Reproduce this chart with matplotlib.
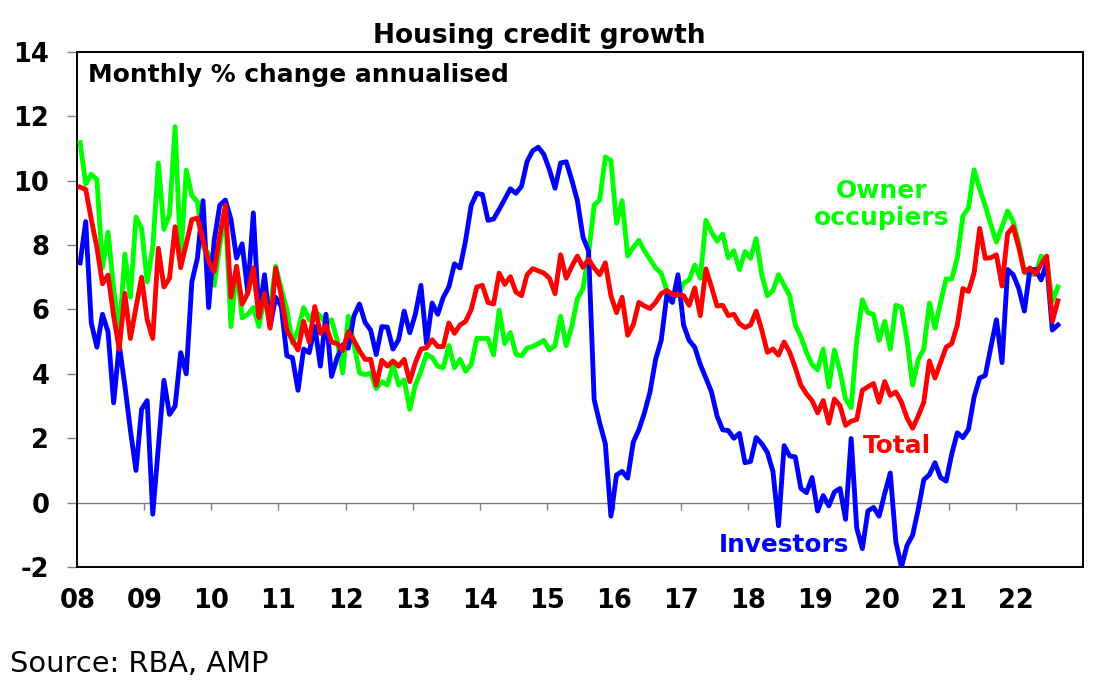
import numpy as np
import matplotlib
matplotlib.use('Agg')
import matplotlib.pyplot as plt

# monthly data, Jan 2008 .. Aug 2022 (% change annualised)
start_year = 2008

owner_occupiers = [
    11.18, 9.9, 10.2, 10.04, 7.3, 8.4, 6.65, 5.2, 7.72, 6.38, 8.87, 8.52,
    6.86, 7.93, 10.55, 8.49, 8.95, 11.68, 7.6, 10.33, 9.54, 9.34, 7.93, 7.74,
    6.75, 8.0, 9.0, 5.47, 7.34, 5.74, 5.85, 6.06, 5.47, 6.38, 6.0, 7.34,
    6.65, 6.0, 4.96, 5.36, 6.06, 5.68, 5.95, 5.79, 5.58, 5.68, 5.04, 4.03,
    5.79, 4.94, 4.03, 3.97, 4.03, 3.54, 3.76, 3.65, 4.29, 3.65, 3.81, 2.9,
    3.65, 4.08, 4.61, 4.51, 4.24, 4.19, 4.88, 4.19, 4.45, 4.08, 4.29, 5.1,
    5.1, 5.1, 4.59, 5.98, 4.94, 5.28, 4.61, 4.56, 4.8, 4.85, 4.94, 5.04,
    4.74, 4.88, 5.79, 4.88, 5.47, 6.33, 6.65, 7.72, 9.24, 9.41, 10.74, 10.63,
    8.68, 9.38, 7.66, 7.93, 8.15, 7.82, 7.56, 7.29, 7.13, 6.59, 6.43, 6.43,
    6.81, 6.92, 7.38, 6.97, 8.77, 8.41, 8.12, 8.34, 7.61, 7.82, 7.24, 7.8,
    7.59, 8.2, 7.08, 6.43, 6.59, 7.08, 6.75, 6.43, 5.52, 5.15, 4.67, 4.29,
    4.13, 4.77, 3.6, 4.74, 4.08, 3.22, 2.95, 5.04, 6.3, 5.9, 5.85, 5.04,
    5.63, 4.77, 6.13, 6.06, 5.04, 3.65, 4.45, 4.77, 6.2, 5.42, 6.22, 6.95,
    6.95, 7.61, 8.9, 9.16, 10.34, 9.75, 9.22, 8.63, 8.09, 8.57, 9.06, 8.73,
    8.04, 7.16, 7.08, 7.1, 7.66, 7.5, 6.25, 6.7,
]

total = [
    9.8, 9.73, 8.8, 7.93, 6.8, 7.07, 5.8, 4.77, 6.5, 5.1, 6.06, 7.0,
    5.68, 5.1, 7.9, 6.7, 6.97, 8.57, 7.3, 8.04, 8.79, 8.84, 8.15, 7.5,
    7.18, 8.3, 9.24, 6.38, 7.34, 6.17, 6.5, 7.3, 5.75, 6.5, 5.42, 7.28,
    6.43, 5.36, 5.04, 4.74, 5.63, 4.99, 6.09, 5.26, 5.5, 4.99, 4.94, 4.72,
    5.31, 5.04, 4.72, 4.45, 4.45, 3.65, 4.42, 4.24, 4.4, 4.24, 4.45, 3.76,
    4.35, 4.77, 4.81, 5.06, 4.85, 4.85, 5.58, 5.26, 5.52, 5.63, 6.0, 6.7,
    6.75, 6.22, 6.17, 7.13, 6.78, 7.02, 6.54, 6.43, 7.08, 7.27, 7.2, 7.13,
    6.97, 6.49, 7.7, 6.97, 7.34, 7.66, 7.31, 7.56, 7.29, 7.08, 7.45, 6.43,
    5.9, 6.38, 5.2, 5.52, 6.22, 6.11, 6.03, 6.22, 6.49, 6.59, 6.47, 6.46,
    6.43, 6.13, 6.67, 5.81, 7.26, 6.7, 6.11, 6.13, 5.81, 5.85, 5.56, 5.44,
    5.52, 5.95, 5.36, 4.67, 4.77, 4.58, 4.99, 4.67, 4.19, 3.65, 3.38, 3.17,
    2.79, 3.17, 2.47, 3.22, 3.01, 2.4, 2.53, 2.58, 3.49, 3.6, 3.7, 3.12,
    3.76, 3.33, 3.44, 3.12, 2.63, 2.31, 2.69, 3.12, 4.4, 3.87, 4.35, 4.83,
    4.94, 5.52, 6.65, 6.56, 7.13, 8.52, 7.59, 7.61, 7.7, 6.73, 8.36, 8.57,
    7.93, 7.16, 7.29, 7.1, 7.4, 7.66, 5.63, 6.27,
]

investors = [
    7.45, 8.73, 5.58, 4.83, 5.85, 5.3, 3.1, 4.9, 3.65, 2.25, 1.0, 2.9,
    3.17, -0.36, 1.72, 3.8, 2.74, 3.0, 4.66, 4.0, 6.86, 7.6, 9.38, 6.06,
    8.15, 9.24, 9.4, 8.8, 7.6, 8.04, 6.54, 9.0, 5.8, 7.08, 5.47, 6.38,
    6.1, 4.56, 4.5, 3.49, 4.77, 4.66, 5.47, 4.24, 5.85, 3.92, 4.5, 4.9,
    4.8, 5.8, 6.17, 5.6, 5.36, 4.6, 5.47, 5.45, 4.77, 5.06, 5.95, 5.28,
    5.85, 6.75, 4.94, 6.2, 5.85, 6.38, 6.7, 7.42, 7.29, 8.15, 9.24, 9.61,
    9.57, 8.77, 8.81, 9.11, 9.43, 9.75, 9.61, 9.83, 10.6, 10.93, 11.04, 10.82,
    10.34, 9.77, 10.55, 10.59, 10.02, 9.38, 8.25, 7.82, 3.2, 2.47, 1.83, -0.42,
    0.86, 0.97, 0.76, 1.88, 2.26, 2.79, 3.44, 4.45, 5.04, 6.43, 6.22, 7.08,
    5.52, 5.04, 4.83, 4.29, 3.87, 3.44, 2.69, 2.26, 2.24, 2.0, 2.15, 1.24,
    1.28, 2.02, 1.83, 1.56, 0.97, -0.72, 1.77, 1.45, 1.42, 0.44, 0.31, 0.78,
    -0.26, 0.22, -0.1, 0.33, 0.44, -0.52, 1.99, -0.79, -1.43, -0.26, -0.15, -0.42,
    0.28, 0.92, -1.22, -2.0, -1.33, -1.01, -0.21, 0.71, 0.87, 1.24, 0.78, 0.67,
    1.51, 2.17, 2.02, 2.28, 3.28, 3.87, 3.95, 4.83, 5.68, 4.35, 7.24, 7.08,
    6.65, 5.95, 7.24, 7.24, 6.92, 7.45, 5.36, 5.52,
]

year_ticks = list(range(2008, 2023))
year_labels = ['%02d' % (y % 100) for y in year_ticks]

GREEN = '#00FF00'
RED = '#FF0000'
BLUE = '#0000FF'
GREY = '#808080'


def main():
    plt.rcParams['font.family'] = ['DejaVu Sans']
    plt.rcParams['font.weight'] = 'bold'
    plt.rcParams['axes.unicode_minus'] = False

    months = np.arange(len(total))
    x = start_year + (months + 0.5) / 12.0

    fig = plt.figure(figsize=(11.03, 6.94), dpi=100)
    ax = fig.add_axes([0.0701, 0.1830, 0.9118, 0.7421])

    ax.axhline(0, color=GREY, lw=1.0, zorder=1)
    # small year marks sitting on the zero line
    ax.vlines(year_ticks[1:], -0.22, 0, color=GREY, lw=1.0, zorder=1)

    lw = 3.5
    ax.plot(x, owner_occupiers, color=GREEN, lw=lw, zorder=3)
    ax.plot(x, investors, color=BLUE, lw=lw, zorder=4)
    ax.plot(x, total, color=RED, lw=lw, zorder=5)

    ax.set_xlim(2008, 2023)
    ax.set_ylim(-2, 14)
    ax.set_yticks(range(-2, 15, 2))
    ax.set_xticks(year_ticks)
    ax.set_xticklabels(year_labels)

    ax.tick_params(axis='y', direction='out', length=7.2, width=1.0,
                   color=GREY, labelsize=18.5, pad=13.0)
    ax.tick_params(axis='x', length=0, labelsize=18.5, pad=15.0)

    for side in ['left', 'right', 'top', 'bottom']:
        ax.spines[side].set_color('black')
        ax.spines[side].set_linewidth(1.4)

    fig.text(0.4887, 0.9380, 'Housing credit growth', ha='center',
             va='baseline', fontsize=19)
    fig.text(0.0798, 0.8823, 'Monthly % change annualised', ha='left',
             va='baseline', fontsize=17.9)

    fig.text(0.7992, 0.7147, 'Owner', color=GREEN, ha='center',
             va='baseline', fontsize=18)
    fig.text(0.7990, 0.6758, 'occupiers', color=GREEN, ha='center',
             va='baseline', fontsize=18)
    fig.text(0.8132, 0.3473, 'Total', color=RED, ha='center',
             va='baseline', fontsize=17.8)
    fig.text(0.7103, 0.2046, 'Investors', color=BLUE, ha='center',
             va='baseline', fontsize=17.8)

    fig.text(0.0091, 0.0317, 'Source: RBA, AMP', ha='left', va='baseline',
             fontsize=20.8, fontweight='normal')

    fig.savefig('out.png', dpi=100)


if __name__ == '__main__':
    main()
